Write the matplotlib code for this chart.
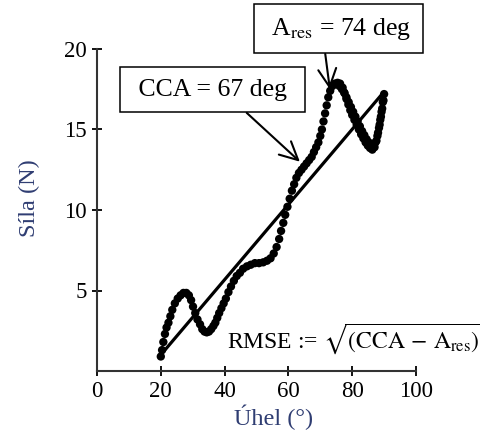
import matplotlib.pyplot as plt
import numpy as np

plt.rcParams['font.family'] = ['Liberation Serif', 'DejaVu Serif']
plt.rcParams['mathtext.fontset'] = 'stix'

# angle (deg) and force (N)
uhel = [20.0, 20.4, 20.8, 21.3, 21.8, 22.4, 23.0, 23.6, 24.4, 25.3, 26.2, 27.1,
        28.0, 28.8, 29.5, 30.1, 30.8, 31.5, 32.3, 33.0, 33.7, 34.4, 35.1, 35.8,
        36.5, 37.1, 37.7, 38.3, 39.0, 39.7, 40.4, 41.2, 42.0, 42.9, 43.8, 44.8,
        45.8, 47.0, 48.2, 49.5, 50.8, 52.1, 53.3, 54.4, 55.4, 56.3, 57.1, 57.7,
        58.4, 59.0, 59.7, 60.4, 61.1, 61.8, 62.5, 63.3, 64.1, 64.9, 65.7, 66.5,
        67.3, 68.0, 68.7, 69.4, 70.0, 70.5, 71.0, 71.5, 72.0, 72.5, 73.1, 73.8,
        74.6, 75.4, 76.2, 77.0, 77.6, 78.2, 78.8, 79.4, 80.0, 80.7, 81.4, 82.1,
        82.8, 83.5, 84.2, 84.9, 85.6, 86.3, 87.0, 87.6, 88.1, 88.6, 89.0, 89.4,
        89.8, 90.0, 89.6, 89.2, 88.8, 88.4, 87.9, 87.3, 86.6, 85.9, 85.2, 84.5,
        83.8, 83.1, 82.4, 81.7, 81.0, 80.3, 79.6, 78.9, 78.2, 77.5, 76.8, 76.0]
sila = [0.9, 1.3, 1.8, 2.3, 2.7, 3.0, 3.4, 3.8, 4.2, 4.5, 4.7, 4.85,
        4.85, 4.7, 4.4, 4.0, 3.6, 3.2, 2.9, 2.6, 2.45, 2.4, 2.45, 2.6,
        2.8, 3.0, 3.3, 3.6, 3.9, 4.2, 4.5, 4.9, 5.25, 5.6, 5.9, 6.1,
        6.35, 6.5, 6.6, 6.7, 6.7, 6.75, 6.85, 7.0, 7.3, 7.7, 8.2, 8.7,
        9.2, 9.7, 10.2, 10.7, 11.2, 11.6, 12.0, 12.3, 12.5, 12.7, 12.9, 13.1,
        13.3, 13.6, 13.9, 14.2, 14.6, 15.0, 15.5, 16.0, 16.5, 17.0, 17.4, 17.7,
        17.85, 17.9, 17.85, 17.6, 17.25, 16.9, 16.55, 16.2, 15.9, 15.6, 15.3, 15.0,
        14.7, 14.45, 14.2, 14.0, 13.85, 13.75, 13.9, 14.3, 14.8, 15.3, 15.8, 16.3,
        16.8, 17.2, 16.7, 16.1, 15.6, 15.1, 14.6, 14.2, 13.95, 14.0, 14.2, 14.4,
        14.65, 14.9, 15.2, 15.5, 15.8, 16.1, 16.4, 16.7, 17.0, 17.3, 17.5, 17.7]

# fitted line end points
fit_x = [20, 90]
fit_y = [1.0, 17.35]

fig = plt.figure(figsize=(4.8, 4.32), dpi=100)
ax = fig.add_axes([97 / 480, 1 - 371 / 432, (416 - 97) / 480, (371 - 49) / 432])

ax.plot(fit_x, fit_y, color='black', lw=2.3, solid_capstyle='butt', zorder=2)
ax.scatter(uhel, sila, s=36, color='black', edgecolors='none', zorder=3)

ax.set_xlim(0, 100)
ax.set_ylim(0, 20)
ax.set_xticks([0, 20, 40, 60, 80, 100])
ax.set_yticks([5, 10, 15, 20])
ax.tick_params(direction='inout', length=7, width=1.3, labelsize=16.5, colors='black')
ax.tick_params(axis='y', pad=4)
for s in ['top', 'right']:
    ax.spines[s].set_visible(False)
for s in ['left', 'bottom']:
    ax.spines[s].set_linewidth(1.5)
    ax.spines[s].set_color('#333333')

lab_col = '#2f3d72'
ax.set_xlabel('Úhel (°)', fontsize=17.5, color=lab_col)
ax.set_ylabel('Síla (N)', fontsize=17.5, color=lab_col)
ax.xaxis.set_label_coords((274 - 97) / (416 - 97), -0.105)
ax.yaxis.set_label_coords(-0.18, (371 - 198) / (371 - 49))

box = dict(boxstyle='square,pad=0.45', fc='white', ec='black', lw=1.1)
ax.annotate(' CCA = 67 deg ', xy=(63.6, 13.0), xytext=(212.5, 432 - 89.7),
            textcoords='figure pixels', ha='center', va='center', fontsize=18.5,
            bbox=box,
            arrowprops=dict(arrowstyle='->,head_length=0.7,head_width=0.35', lw=1.5,
                            color='black', relpos=(0.63, 0), shrinkA=0, shrinkB=0))
ax.annotate(r' A$_{\mathrm{res}}$ = 74 deg ', xy=(73.0, 17.5), xytext=(338.3, 432 - 28.8),
            textcoords='figure pixels', ha='center', va='center', fontsize=18.5,
            bbox=box,
            arrowprops=dict(arrowstyle='->,head_length=0.7,head_width=0.35', lw=1.5,
                            color='black', relpos=(0.40, 0), shrinkA=0, shrinkB=0))

# runs off the right edge, as in the reference
fig.text(227 / 480, 1 - 348 / 432,
         r'RMSE := $\sqrt{\left(\mathrm{CCA}\,-\,\mathrm{A_{res}}\right)^2}$',
         fontsize=17, va='baseline', ha='left')

fig.savefig('out.png', dpi=100)
